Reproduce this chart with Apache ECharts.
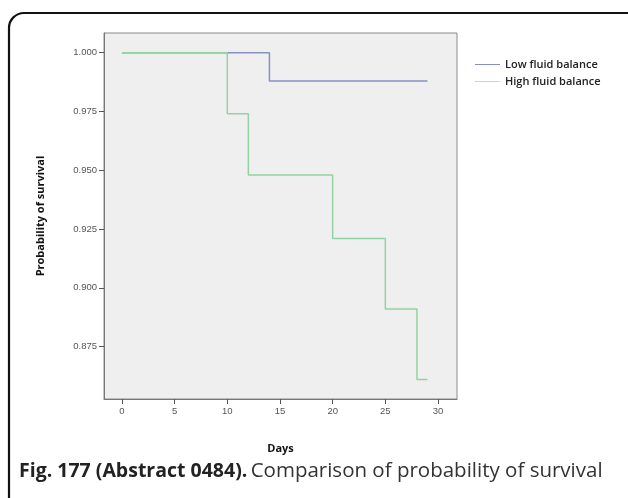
<!DOCTYPE html>
<html>
<head>
<meta charset="utf-8">
<script src="https://cdn.jsdelivr.net/npm/echarts@6/dist/echarts.min.js"></script>
<style>
html,body{margin:0;padding:0;background:#fff;}
#c{width:628px;height:498px;}
</style>
</head>
<body>
<div id="c"></div>
<script>
// Data
const lowDays = [0, 14, 29];
const lowSurvival = [1.000, 0.988, 0.988];
const highDays = [0, 10, 12, 20, 25, 28, 29];
const highSurvival = [1.000, 0.974, 0.948, 0.921, 0.891, 0.861, 0.861];
const xTicks = [0, 5, 10, 15, 20, 25, 30];
const yTicks = [0.875, 0.900, 0.925, 0.950, 0.975, 1.000];
const seriesNames = ['Low fluid balance', 'High fluid balance'];

const chart = echarts.init(document.getElementById('c'), null, {renderer: 'canvas'});
const zip = (xs, ys) => xs.map((x, i) => [x, ys[i]]);
const tickFont = {color: '#555', fontSize: 9.5, fontFamily: 'Liberation Sans'};

chart.setOption({
  backgroundColor: '#fff',
  animation: false,
  grid: {left: 104, top: 33, width: 353, height: 366, show: true, backgroundColor: '#efefef', borderColor: '#8a8a8a', borderWidth: 1},
  xAxis: {
    type: 'value', min: -1.7, max: 31.8,
    name: 'Days', nameLocation: 'middle', nameGap: 44,
    nameTextStyle: {fontFamily: 'Open Sans', fontWeight: 'bold', fontSize: 11, color: '#111'},
    axisLine: {show: true, onZero: false, lineStyle: {color: '#777', width: 1}},
    axisTick: {show: true, customValues: xTicks, length: 5, lineStyle: {color: '#555'}},
    axisLabel: {customValues: xTicks, ...tickFont, margin: 7},
    splitLine: {show: false}
  },
  yAxis: {
    type: 'value', min: 0.8527, max: 1.0084,
    name: 'Probability of survival', nameLocation: 'middle', nameGap: 58, nameRotate: 90,
    nameTextStyle: {fontFamily: 'Open Sans', fontWeight: 'bold', fontSize: 11, color: '#111'},
    axisLine: {show: true, onZero: false, lineStyle: {color: '#777', width: 1}},
    axisTick: {show: true, customValues: yTicks, length: 5, lineStyle: {color: '#555'}},
    axisLabel: {customValues: yTicks, ...tickFont, margin: 7, formatter: v => v.toFixed(3)},
    splitLine: {show: false}
  },
  legend: {
    orient: 'vertical', left: 475, top: 59, padding: 0, itemWidth: 25, itemHeight: 1, itemGap: 6,
    icon: 'rect',
    textStyle: {fontFamily: 'Open Sans', fontSize: 11, fontWeight: 600, color: '#222'},
    data: seriesNames
  },
  series: [
    {name: seriesNames[0], type: 'line', step: 'end', symbol: 'none', data: zip(lowDays, lowSurvival),
     lineStyle: {color: '#8890c2', width: 1.5}, itemStyle: {color: '#8890c2'}},
    {name: seriesNames[1], type: 'line', step: 'end', symbol: 'none', data: zip(highDays, highSurvival),
     lineStyle: {color: '#94d2a3', width: 1.5}, itemStyle: {color: '#c9dcaa'}}
  ],
  graphic: [
    {type: 'rect', shape: {x: 9, y: 13, width: 640, height: 530, r: 15}, style: {fill: null, stroke: '#111', lineWidth: 2.2}, silent: true},
    {type: 'text', left: 19, top: 461, style: {
      text: '{b|Fig. 177 (Abstract 0484).} {r|Comparison of probability of survival}',
      rich: {
        b: {fontFamily: 'Open Sans', fontSize: 19.5, fontWeight: 'bold', fill: '#222'},
        r: {fontFamily: 'Open Sans', fontSize: 20.5, fill: '#333'}
      }
    }}
  ]
});
</script>
</body>
</html>
